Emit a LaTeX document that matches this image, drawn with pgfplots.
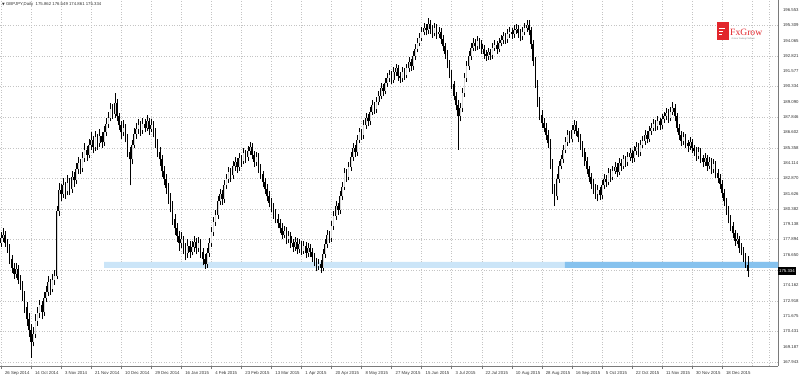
\documentclass[border=0pt]{standalone}
\usepackage{pgfplots}
\pgfplotsset{compat=1.18}
\usepackage{pgfplotstable}
\usepackage{fontspec}
\setmainfont{Liberation Sans}
\newfontfamily\djv{DejaVu Sans}
\newfontfamily\fxserif{Liberation Serif}
\definecolor{gridc}{HTML}{C4C4C4}
\definecolor{bandlight}{HTML}{CBE5F8}
\definecolor{banddark}{HTML}{86C2EE}
\definecolor{fxred}{HTML}{E2262C}
\definecolor{axc}{HTML}{7A7A7A}
\definecolor{txt}{HTML}{333333}
\definecolor{bullin}{HTML}{D8D8D8}

\pgfplotstableread{
o h l c
177.6 178.5 177.3 178.0
178.0 178.8 177.7 178.3
178.3 178.6 177.3 177.6
177.6 177.9 176.8 177.2
177.2 177.5 175.9 176.3
176.3 176.6 175.2 175.6
175.6 176.0 174.7 175.1
175.1 176.0 174.8 175.5
175.5 175.8 174.3 174.6
174.6 175.0 173.8 174.2
174.2 174.5 172.9 173.3
173.3 173.7 171.9 172.4
172.4 172.8 170.9 171.4
171.4 171.9 170.0 170.5
170.5 171.0 168.3 169.6
169.6 170.8 169.2 170.2
170.2 171.8 169.9 171.3
171.3 172.4 170.9 171.9
171.9 173.0 171.5 172.6
172.6 172.9 171.4 172.0
172.0 173.6 171.7 173.1
173.1 174.1 172.8 173.6
173.6 174.9 173.3 174.4
174.4 174.7 173.4 173.9
173.9 175.1 173.6 174.6
174.6 175.4 174.2 174.9
174.9 180.6 174.7 180.2
180.2 182.5 179.8 181.9
181.9 182.4 181.0 181.6
181.6 182.9 181.3 182.3
182.3 182.6 181.2 181.8
181.8 183.1 181.5 182.5
182.5 182.9 181.5 182.0
182.0 183.5 181.7 183.0
183.0 183.4 182.2 182.7
182.7 184.1 182.4 183.6
183.6 184.6 183.2 184.1
184.1 184.4 183.2 183.7
183.7 185.0 183.4 184.5
184.5 185.7 184.2 185.2
185.2 185.5 184.3 184.8
184.8 186.1 184.5 185.6
185.6 186.6 185.2 186.0
186.0 186.3 184.9 185.4
185.4 186.7 185.1 186.2
186.2 186.5 185.2 185.7
185.7 186.9 185.4 186.3
186.3 186.6 185.3 185.8
185.8 187.1 185.5 186.6
186.6 187.8 186.3 187.3
187.3 188.3 187.0 187.8
187.8 189.0 187.5 188.5
188.5 188.9 187.7 188.1
188.1 189.8 187.8 189.0
189.0 189.3 187.5 187.9
187.9 188.2 186.8 187.2
187.2 187.5 186.1 186.6
186.6 187.6 186.3 187.0
187.0 187.3 185.8 186.2
186.2 186.5 184.6 185.0
185.0 185.4 182.3 184.4
184.4 186.0 184.0 185.6
185.6 187.0 185.3 186.5
186.5 187.4 186.1 186.9
186.9 187.7 186.5 187.2
187.2 187.5 186.3 186.8
186.8 187.8 186.5 187.3
187.3 187.7 186.6 187.0
187.0 188.0 186.7 187.5
187.5 187.8 186.4 186.9
186.9 187.7 186.6 187.2
187.2 187.5 186.2 186.7
186.7 187.0 185.3 185.8
185.8 186.1 184.6 185.0
185.0 185.4 183.9 184.4
184.4 184.8 183.0 183.5
183.5 183.9 182.3 182.8
182.8 183.2 181.6 182.1
182.1 182.5 180.8 181.3
181.3 181.7 180.1 180.6
180.6 181.0 179.1 179.6
179.6 180.0 178.3 178.8
178.8 179.2 177.7 178.2
178.2 178.6 177.0 177.6
177.6 178.5 177.2 177.9
177.9 178.2 176.7 177.2
177.2 177.6 176.2 176.8
176.8 177.9 176.4 177.4
177.4 177.8 176.4 176.9
176.9 177.8 176.6 177.3
177.3 178.2 176.9 177.7
177.7 178.0 176.7 177.2
177.2 178.1 176.9 177.6
177.6 177.9 176.4 176.9
176.9 177.2 175.8 176.3
176.3 176.7 175.5 175.9
175.9 177.2 175.6 176.8
176.8 178.0 176.5 177.6
177.6 178.9 177.3 178.5
178.5 179.7 178.2 179.3
179.3 180.3 179.0 179.9
179.9 181.4 179.6 181.0
181.0 182.0 180.7 181.6
181.6 181.9 180.7 181.2
181.2 182.7 180.9 182.3
182.3 183.2 182.0 182.8
182.8 183.8 182.5 183.4
183.4 183.7 182.6 183.1
183.1 184.3 182.8 183.9
183.9 184.6 183.5 184.2
184.2 184.5 183.3 183.8
183.8 184.9 183.5 184.5
184.5 184.8 183.8 184.3
184.3 185.3 184.0 184.9
184.9 185.2 184.1 184.6
184.6 185.5 184.3 185.1
185.1 185.8 184.8 185.4
185.4 185.7 184.4 184.8
184.8 185.1 183.8 184.2
184.2 185.0 183.9 184.6
184.6 184.9 183.3 183.7
183.7 184.0 182.8 183.2
183.2 183.5 182.2 182.6
182.6 182.9 181.6 182.0
182.0 182.4 181.0 181.4
181.4 181.8 180.5 180.9
180.9 181.3 180.1 180.5
180.5 180.9 179.6 180.0
180.0 180.4 179.2 179.6
179.6 180.0 178.8 179.2
179.2 179.6 178.4 178.8
178.8 179.2 177.9 178.3
178.3 179.0 178.0 178.6
178.6 178.9 177.5 177.9
177.9 178.6 177.6 178.2
178.2 178.5 177.2 177.6
177.6 177.9 176.9 177.3
177.3 178.1 177.0 177.7
177.7 178.0 176.7 177.1
177.1 177.9 176.8 177.5
177.5 177.8 176.6 177.0
177.0 177.8 176.7 177.4
177.4 177.7 176.4 176.8
176.8 177.6 176.5 177.2
177.2 177.5 176.5 176.9
176.9 177.2 176.1 176.5
176.5 176.8 175.7 176.1
176.1 176.4 175.3 175.7
175.7 176.3 175.4 175.9
175.9 176.2 175.2 175.6
175.6 177.1 175.3 176.7
176.7 177.9 176.4 177.5
177.5 178.7 177.2 178.3
178.3 178.6 177.6 178.0
178.0 179.4 177.7 179.0
179.0 180.2 178.7 179.8
179.8 181.0 179.5 180.6
180.6 180.9 179.9 180.3
180.3 181.8 180.0 181.4
181.4 182.6 181.1 182.2
182.2 183.7 181.9 183.3
183.3 183.6 182.6 183.0
183.0 184.2 182.7 183.8
183.8 185.0 183.5 184.6
184.6 185.7 184.3 185.3
185.3 185.6 184.6 185.0
185.0 186.4 184.7 186.0
186.0 187.0 185.7 186.6
186.6 186.9 186.0 186.4
186.4 187.6 186.1 187.2
187.2 188.2 186.9 187.8
187.8 188.1 187.1 187.5
187.5 188.7 187.2 188.3
188.3 189.2 188.0 188.8
188.8 189.1 188.1 188.5
188.5 189.5 188.2 189.1
189.1 190.0 188.8 189.6
189.6 190.6 189.3 190.2
190.2 190.5 189.6 190.0
190.0 191.0 189.7 190.6
190.6 191.4 190.3 191.0
191.0 191.7 190.7 191.3
191.3 191.6 190.5 190.9
190.9 191.9 190.6 191.5
191.5 192.2 191.2 191.8
191.8 192.1 190.8 191.2
191.2 191.5 190.6 191.0
191.0 191.9 190.7 191.5
191.5 191.8 190.9 191.3
191.3 192.2 191.0 191.8
191.8 192.7 191.5 192.3
192.3 192.6 191.6 192.0
192.0 193.2 191.7 192.8
192.8 193.8 192.5 193.4
193.4 194.3 193.1 193.9
193.9 194.7 193.6 194.3
194.3 195.2 194.0 194.8
194.8 195.5 194.5 195.1
195.1 195.4 194.5 194.9
194.9 195.9 194.6 195.4
195.4 195.7 194.6 195.0
195.0 195.3 194.3 194.7
194.7 195.5 194.4 195.1
195.1 195.4 194.2 194.6
194.6 195.2 194.3 194.8
194.8 195.1 193.8 194.2
194.2 194.5 193.2 193.6
193.6 193.9 192.6 193.0
193.0 193.3 191.8 192.2
192.2 192.5 191.0 191.4
191.4 191.7 190.1 190.5
190.5 190.8 189.2 189.6
189.6 189.9 188.4 188.8
188.8 189.2 185.2 187.9
187.9 189.0 187.5 188.6
188.6 190.2 188.3 189.8
189.8 191.4 189.5 191.0
191.0 192.4 190.7 192.0
192.0 193.2 191.7 192.8
192.8 193.9 192.5 193.5
193.5 194.3 193.2 193.9
193.9 194.2 193.2 193.6
193.6 194.4 193.3 194.0
194.0 194.3 193.4 193.8
193.8 194.1 193.0 193.4
193.4 193.7 192.6 193.0
193.0 193.3 192.4 192.8
192.8 193.5 192.5 193.1
193.1 193.4 192.5 192.9
192.9 193.9 192.6 193.5
193.5 194.1 193.2 193.7
193.7 194.0 193.0 193.4
193.4 194.3 193.1 193.9
193.9 194.5 193.6 194.1
194.1 194.8 193.8 194.4
194.4 194.7 193.8 194.2
194.2 195.0 193.9 194.6
194.6 195.2 194.3 194.8
194.8 195.1 194.2 194.6
194.6 195.3 194.3 194.9
194.9 195.4 194.6 195.0
195.0 195.3 194.3 194.7
194.7 195.0 194.0 194.4
194.4 195.2 194.1 194.8
194.8 195.5 194.5 195.1
195.1 195.7 194.8 195.3
195.3 195.7 194.5 194.9
194.9 195.2 193.4 193.8
193.8 194.1 192.0 192.4
192.4 192.7 190.2 190.6
190.6 190.9 188.7 189.1
189.1 189.5 187.6 188.0
188.0 188.4 187.0 187.4
187.4 187.8 186.6 187.0
187.0 187.4 186.0 186.4
186.4 186.8 185.3 185.7
185.7 186.1 183.6 184.0
184.0 184.4 181.6 182.0
182.0 182.4 180.6 181.4
181.4 183.2 181.1 182.8
182.8 184.3 182.5 183.9
183.9 184.8 183.6 184.4
184.4 185.6 184.1 185.2
185.2 186.2 184.9 185.8
185.8 186.8 185.5 186.4
186.4 186.7 185.7 186.1
186.1 187.2 185.8 186.8
186.8 187.6 186.5 187.2
187.2 187.5 186.3 186.7
186.7 187.0 185.8 186.2
186.2 186.5 185.2 185.6
185.6 185.9 184.6 185.0
185.0 185.3 183.9 184.3
184.3 184.6 183.2 183.6
183.6 183.9 182.6 183.0
183.0 183.3 182.0 182.4
182.4 182.8 181.6 182.0
182.0 182.4 181.2 181.6
181.6 182.3 181.0 181.9
181.9 182.2 181.1 181.5
181.5 182.7 181.2 182.3
182.3 183.2 182.0 182.8
182.8 183.1 182.2 182.6
182.6 183.7 182.3 183.3
183.3 183.6 182.6 183.0
183.0 183.9 182.7 183.5
183.5 184.2 183.2 183.8
183.8 184.1 183.0 183.4
183.4 184.5 183.1 184.1
184.1 184.4 183.5 183.9
183.9 184.8 183.6 184.4
184.4 184.7 183.8 184.2
184.2 185.0 183.9 184.6
184.6 185.3 184.3 184.9
184.9 185.2 184.1 184.5
184.5 185.5 184.2 185.1
185.1 185.8 184.8 185.4
185.4 185.7 184.6 185.0
185.0 186.0 184.7 185.6
185.6 186.3 185.3 185.9
185.9 186.8 185.6 186.4
186.4 186.7 185.7 186.1
186.1 187.1 185.8 186.7
186.7 187.4 186.4 187.0
187.0 187.7 186.7 187.3
187.3 187.6 186.7 187.1
187.1 187.9 186.8 187.5
187.5 187.8 186.8 187.2
187.2 188.1 186.9 187.7
187.7 188.3 187.4 187.9
187.9 188.6 187.6 188.2
188.2 188.5 187.4 187.8
187.8 188.7 187.5 188.3
188.3 189.1 188.0 188.6
188.6 188.9 187.5 187.9
187.9 188.2 186.6 187.0
187.0 187.3 186.0 186.4
186.4 186.7 185.5 185.9
185.9 186.6 185.6 186.2
186.2 186.5 185.3 185.7
185.7 186.0 185.0 185.5
185.5 186.2 185.2 185.8
185.8 186.1 184.9 185.3
185.3 185.6 184.7 185.1
185.1 185.4 184.3 184.7
184.7 185.4 184.4 185.0
185.0 185.3 184.1 184.5
184.5 184.8 183.8 184.2
184.2 184.9 183.9 184.5
184.5 184.8 183.5 183.9
183.9 184.6 183.6 184.2
184.2 184.5 183.2 183.6
183.6 184.4 183.3 184.0
184.0 184.3 182.9 183.3
183.3 183.6 182.5 182.9
182.9 183.2 182.0 182.4
182.4 182.7 181.3 181.7
181.7 182.0 180.6 181.0
181.0 181.3 179.9 180.3
180.3 180.6 179.2 179.6
179.6 179.9 178.6 179.0
179.0 179.3 178.0 178.4
178.4 178.7 177.4 177.8
177.8 178.4 177.5 177.9
177.9 178.2 176.8 177.2
177.2 177.6 176.6 177.0
177.0 177.3 176.1 176.5
176.5 176.8 175.6 175.9
175.862 176.549 174.861 175.334
}\candles

\begin{document}
\begin{tikzpicture}[x=1pt,y=1pt]
\begin{axis}[
  at={(0pt,10pt)}, anchor=south west,
  scale only axis, width=778pt, height=366pt,
  xmin=-0.466, xmax=362.07, ymin=167.61, ymax=197.366,
  axis x line*=bottom, axis y line*=right,
  axis line style={axc, line width=0.5pt},
  clip=true,
  ytick={196.553,195.309,194.065,192.821,191.577,190.334,189.090,187.846,186.602,185.358,184.114,182.870,181.626,180.382,179.138,177.894,176.650,175.406,174.162,172.918,171.675,170.431,169.187,167.943},
  yticklabels={196.553,195.309,194.065,192.821,191.577,190.334,189.090,187.846,186.602,185.358,184.114,182.870,181.626,180.382,179.138,177.894,176.650,,174.162,172.918,171.675,170.431,169.187,167.943},
  yticklabel pos=right,
  yticklabel style={font=\fontsize{4.3}{5}\selectfont, text=txt, anchor=west, xshift=-1pt},
  ytick style={draw=none},
  extra y ticks={195.309,192.821,190.334,187.846,185.358,182.870,180.382,177.894,175.406,172.918,170.431,167.943},
  extra y tick labels={},
  extra y tick style={grid=major, tick align=outside, major tick length=2.5pt, tick style={draw=axc, line width=0.4pt}},
  xtick={0,14,...,336},
  xticklabels={26 Sep 2014,14 Oct 2014,3 Nov 2014,21 Nov 2014,10 Dec 2014,29 Dec 2014,16 Jan 2015,4 Feb 2015,23 Feb 2015,13 Mar 2015,1 Apr 2015,20 Apr 2015,8 May 2015,27 May 2015,15 Jun 2015,3 Jul 2015,22 Jul 2015,10 Aug 2015,28 Aug 2015,16 Sep 2015,5 Oct 2015,22 Oct 2015,11 Nov 2015,30 Nov 2015,18 Dec 2015},
  xticklabel style={font=\fontsize{4.3}{5}\selectfont, text=txt, anchor=north west, xshift=0.5pt, yshift=1pt},
  xmajorgrids=true,
  tick align=outside, major tick length=2.5pt,
  xtick style={draw=axc, line width=0.4pt},
  extra x ticks={350,358}, extra x tick labels={},
  extra x tick style={grid=major, major tick length=0pt},
  major grid style={gridc, line width=0.35pt, dash pattern=on 0.8pt off 1.8pt},
]
% support zones
\addplot[fill=bandlight, draw=none, forget plot] coordinates {(48,175.58) (362.07,175.58) (362.07,176.07) (48,176.07) (48,175.58)};
\addplot[fill=banddark, draw=none, forget plot] coordinates {(262.8,175.58) (362.07,175.58) (362.07,176.07) (262.8,176.07) (262.8,175.58)};
% wicks
\addplot[draw=none, mark=none, forget plot,
  error bars/.cd, y dir=plus, y explicit, error mark=none,
  error bar style={draw=black, line width=0.45pt}]
  table[x expr=\coordindex, y=l, y error plus expr=\thisrow{h}-\thisrow{l}] {\candles};
% bear bodies
\addplot[draw=none, mark=none, forget plot,
  x filter/.expression={\thisrow{c}<\thisrow{o} ? x : nan},
  error bars/.cd, y dir=plus, y explicit, error mark=none,
  error bar style={draw=black, line width=1.6pt}]
  table[x expr=\coordindex, y=c, y error plus expr=\thisrow{o}-\thisrow{c}] {\candles};
% bull bodies (outlined)
\addplot[draw=none, mark=none, forget plot,
  x filter/.expression={\thisrow{c}>=\thisrow{o} ? x : nan},
  error bars/.cd, y dir=plus, y explicit, error mark=none,
  error bar style={draw=black, line width=1.6pt}]
  table[x expr=\coordindex, y=o, y error plus expr=\thisrow{c}-\thisrow{o}] {\candles};
\addplot[draw=none, mark=none, forget plot,
  x filter/.expression={\thisrow{c}>=\thisrow{o} ? x : nan},
  error bars/.cd, y dir=plus, y explicit, error mark=none,
  error bar style={draw=bullin, line width=0.45pt}]
  table[x expr=\coordindex, y=o, y error plus expr=\thisrow{c}-\thisrow{o}] {\candles};
\coordinate (cp) at (axis cs:362.07,175.334);
\end{axis}
% current price box
\node[fill=black, text=white, anchor=west, inner xsep=1pt, inner ysep=0pt, minimum height=7.5pt, font=\fontsize{4.3}{5}\selectfont] at (cp) {175.334};
% title
\node[anchor=west, inner sep=0pt, text=txt, font=\fontsize{4.3}{5}\selectfont] at (2pt,371.5pt) {{\djv\fontsize{3.5}{4}\selectfont ▼}\ GBPJPY,Daily\ \ 175.862 176.549 174.861 175.334};
% FxGrow logo
\fill[fxred] (717pt,336pt) rectangle (729pt,354pt);
\draw[white, line width=0.9pt] (719pt,348pt) -- (725pt,348pt);
\draw[white, line width=0.9pt] (719pt,345pt) -- (723pt,345pt);
\draw[white, line width=0.9pt] (719pt,342pt) -- (721.5pt,342pt);
\node[anchor=base west, inner sep=0pt, text=fxred, font=\fxserif\fontsize{9.6}{10}\selectfont] at (730pt,341pt) {FxGrow};
\node[anchor=base west, inner sep=0pt, text=gray, font=\fontsize{2.2}{2.5}\selectfont] at (731.5pt,336.5pt) {Online Trading Platform};
\pgfresetboundingbox
\path[use as bounding box] (0pt,0pt) rectangle (800pt,376pt);
\end{tikzpicture}
\end{document}
